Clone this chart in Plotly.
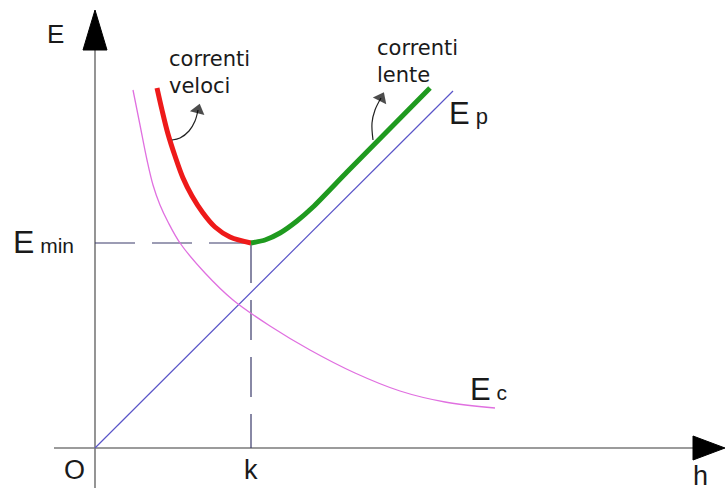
"""
Diagramma dell'energia specifica E(h) - Plotly
"""

import plotly.graph_objects as go

# --- dati (unità arbitrarie, origine in O) ---
# energia potenziale Ep = h
h_ep = [0, 358]
e_ep = [0, 357]

# energia cinetica Ec
h_ec = [38, 45, 52, 58, 65, 73, 85, 110, 138, 175, 215, 260, 305, 350, 400]
e_ec = [358, 323, 288, 263, 243, 226, 205, 175, 148, 122, 98, 75, 57, 46, 40]

# correnti veloci (ramo sinistro di E)
h_veloci = [62, 67, 73, 80, 88, 97, 108, 120, 135, 156]
e_veloci = [360, 338, 314, 292, 270, 252, 235, 221, 211, 205]

# correnti lente (ramo destro di E)
h_lente = [156, 170, 185, 202, 218, 252, 335]
e_lente = [205, 208, 215, 227, 241, 276, 360]

# punto critico
k = 156
e_min = 205

# frecce curve delle etichette
h_freccia_veloci = [77, 85, 94, 100, 103]
e_freccia_veloci = [308, 310, 317, 327, 338]
h_freccia_lente = [278, 277, 280, 286]
e_freccia_lente = [308, 325, 338, 350]

# assi
h_asse = [-41, 598]
e_asse = [-40, 398]

AXIS_COLOR = '#7a7a7a'
DASH_COLOR = '#3a3a6a'
TEXT_COLOR = '#1a1a1a'

fig = go.Figure()

# assi
fig.add_trace(go.Scatter(x=h_asse, y=[0, 0], mode='lines',
                         line=dict(color=AXIS_COLOR, width=1.6)))
fig.add_trace(go.Scatter(x=[0, 0], y=e_asse, mode='lines',
                         line=dict(color=AXIS_COLOR, width=1.6)))
# punte delle frecce degli assi
fig.add_trace(go.Scatter(x=[h_asse[1], 630, h_asse[1], h_asse[1]], y=[12, 0, -12, 12],
                         mode='lines', fill='toself', fillcolor='black',
                         line=dict(color='black', width=1)))
fig.add_trace(go.Scatter(x=[-12, 0, 12, -12], y=[e_asse[1], 438, e_asse[1], e_asse[1]],
                         mode='lines', fill='toself', fillcolor='black',
                         line=dict(color='black', width=1)))

# tratteggi Emin e k
fig.add_trace(go.Scatter(x=[0, k], y=[e_min, e_min], mode='lines',
                         line=dict(color=DASH_COLOR, width=1.2, dash='40px,17px')))
fig.add_trace(go.Scatter(x=[k, k], y=[e_min, 0], mode='lines',
                         line=dict(color=DASH_COLOR, width=1.2, dash='40px,17px')))

# Ep e Ec
fig.add_trace(go.Scatter(x=h_ep, y=e_ep, mode='lines',
                         line=dict(color='#5a55c8', width=1.2)))
fig.add_trace(go.Scatter(x=h_ec, y=e_ec, mode='lines',
                         line=dict(color='#e070e0', width=1.3, shape='spline', smoothing=1)))

# curva E: correnti veloci / lente
fig.add_trace(go.Scatter(x=h_veloci, y=e_veloci, mode='lines',
                         line=dict(color='#ee1a1a', width=5, shape='spline', smoothing=1)))
fig.add_trace(go.Scatter(x=h_lente, y=e_lente, mode='lines',
                         line=dict(color='#1f9a1f', width=5, shape='spline', smoothing=0.6)))

# frecce curve
for hx, ey in [(h_freccia_veloci, e_freccia_veloci), (h_freccia_lente, e_freccia_lente)]:
    sizes = [0] * (len(hx) - 1) + [13]
    fig.add_trace(go.Scatter(
        x=hx, y=ey, mode='lines+markers',
        line=dict(color='#222222', width=1.2, shape='spline'),
        marker=dict(symbol='triangle-up', size=sizes, color='black',
                    angleref='previous', line=dict(width=0))
    ))

# etichette
def label(x, y, text, size, xanchor='center', family='Liberation Sans, Arial'):
    fig.add_annotation(x=x, y=y, xref='x', yref='y', text=text, showarrow=False,
                       xanchor=xanchor, yanchor='middle', align='left',
                       font=dict(family=family, size=size, color=TEXT_COLOR))

label(-40, 414, 'E', 26)
label(-21, -22, 'O', 27)
label(k, -22, 'k', 27)
label(605, -28, 'h', 27)
label(-84, 206, "E<span style='font-size:21px'> min</span>", 32, xanchor='left')
label(352, 335, "E<span style='font-size:22px'> p</span>", 31, xanchor='left')
label(373, 59, "E<span style='font-size:21px'> c</span>", 31, xanchor='left')
label(72, 376, 'correnti<br>veloci', 21, xanchor='left', family='DejaVu Sans')
label(280, 387, 'correnti<br>lente', 21, xanchor='left', family='DejaVu Sans')

fig.update_layout(
    width=726, height=491,
    margin=dict(l=0, r=0, t=0, b=0),
    paper_bgcolor='white', plot_bgcolor='white',
    showlegend=False,
    xaxis=dict(range=[-95, 631], visible=False, fixedrange=True),
    yaxis=dict(range=[-43, 448], visible=False, fixedrange=True),
)

# niente margine del body, così la figura occupa esattamente la finestra
fig.write_html("out.html", config={'displayModeBar': False},
               post_script="document.body.style.margin='0';document.body.style.overflow='hidden';")
